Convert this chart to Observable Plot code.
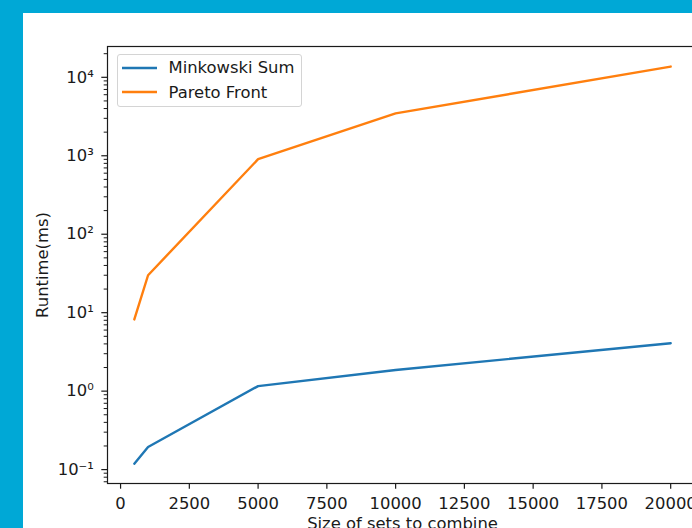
<!DOCTYPE html>
<html>
<head>
<meta charset="utf-8">
<script src="https://cdn.jsdelivr.net/npm/d3@7"></script>
<script src="https://cdn.jsdelivr.net/npm/@observablehq/plot@0.6"></script>
<style>
  html, body { margin: 0; padding: 0; width: 692px; height: 528px; overflow: hidden; background: #00a8d6; }
  #panel { position: absolute; left: 23px; top: 13px; right: 0; bottom: 0; background: #fff; }
  #chart { position: absolute; left: 0; top: 0; }
  #legend { position: absolute; left: 116.5px; top: 54px; width: 185px; height: 53px; box-sizing: border-box;
            border: 1px solid #d4d4d4; border-radius: 3px; background: rgba(255,255,255,0.8);
            font-family: "DejaVu Sans", sans-serif; font-size: 16.4px; color: #1a1a1a; }
  .row { position: absolute; left: 0; height: 20px; display: flex; align-items: center; }
  .row svg { margin-left: 4px; }
  .row span { margin-left: 12px; white-space: nowrap; }
</style>
</head>
<body>
<div id="panel"></div>
<div id="chart"></div>
<div id="legend"></div>
<script>
// ---- data ----
const sizes = [500, 1000, 5000, 10000, 20000];
const minkowski = [0.119, 0.194, 1.16, 1.86, 4.08];
const pareto = [8.2, 30, 905, 3470, 13700];
const seriesNames = ["Minkowski Sum", "Pareto Front"];
const seriesColors = ["#1f77b4", "#ff7f0e"];
const xTicks = [0, 2500, 5000, 7500, 10000, 12500, 15000, 17500, 20000];
const yMajorTicks = [0.1, 1, 10, 100, 1000, 10000];
const yMajorLabels = ["10\u207B\u00B9", "10\u2070", "10\u00B9", "10\u00B2", "10\u00B3", "10\u2074"];
const xLabel = "Size of sets to combine";
const yLabel = "Runtime(ms)";

const xDomain = [-475, 20975];
const yDomain = [0.0665, 24700];

const rows = [];
sizes.forEach((s, i) => {
  rows.push({size: s, value: minkowski[i], series: seriesNames[0]});
});
sizes.forEach((s, i) => {
  rows.push({size: s, value: pareto[i], series: seriesNames[1]});
});

const yMinorTicks = [];
for (let e = -2; e <= 4; e++) {
  for (let k = 2; k <= 9; k++) {
    const v = k * Math.pow(10, e);
    if (v >= yDomain[0] && v <= yDomain[1]) yMinorTicks.push(v);
  }
}

const chart = Plot.plot({
  width: 720,
  height: 528,
  marginLeft: 107,
  marginRight: 23,
  marginTop: 46,
  marginBottom: 45,
  style: {background: "transparent", fontFamily: "DejaVu Sans, sans-serif", fontSize: "16.4px", color: "#1a1a1a", maxWidth: "none"},
  x: {domain: xDomain},
  y: {type: "log", domain: yDomain},
  color: {domain: seriesNames, range: seriesColors},
  marks: [
    Plot.axisX({ticks: xTicks, tickFormat: d3.format("d"), tickSize: 5.7, tickPadding: 8, label: null, strokeWidth: 1.2}),
    Plot.axisY({ticks: yMajorTicks, tickFormat: d => yMajorLabels[yMajorTicks.indexOf(d)], tickSize: 5.7, tickPadding: 8, label: null, strokeWidth: 1.2}),
    Plot.axisY({ticks: yMinorTicks, tickFormat: () => "", tickSize: 3.3, label: null, strokeWidth: 1}),
    Plot.line(rows, {x: "size", y: "value", z: "series", stroke: "series", strokeWidth: 2.4}),
    Plot.frame({stroke: "#1a1a1a", strokeWidth: 1.2}),
    Plot.text([yLabel], {frameAnchor: "left", text: d => d, dx: -65, rotate: -90, textAnchor: "middle", lineAnchor: "middle"}),
    Plot.text([xLabel], {frameAnchor: "bottom", text: d => d, dy: 34, lineAnchor: "top"})
  ]
});
document.getElementById("chart").appendChild(chart);

// legend
const legend = document.getElementById("legend");
seriesNames.forEach((name, i) => {
  const row = document.createElement("div");
  row.className = "row";
  row.style.top = (2.7 + i * 24.3) + "px";
  row.innerHTML = `<svg width="35" height="4"><line x1="0" x2="35" y1="2" y2="2" stroke="${seriesColors[i]}" stroke-width="2.4"/></svg><span>${name}</span>`;
  legend.appendChild(row);
});
</script>
</body>
</html>
